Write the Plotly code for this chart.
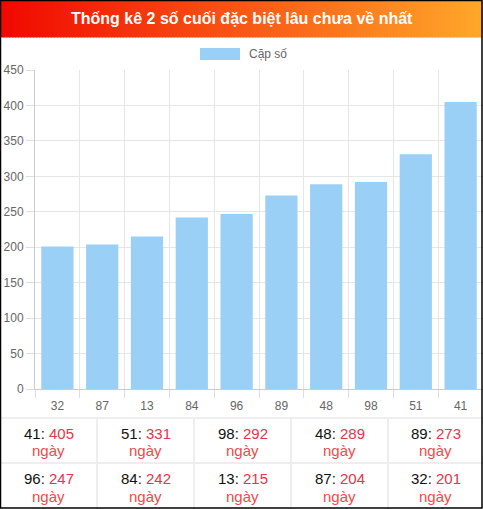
import plotly.graph_objects as go

# dữ liệu: cặp số và số ngày chưa về
categories = ['32', '87', '13', '84', '96', '89', '48', '98', '51', '41']
days = [201, 204, 215, 242, 247, 273, 289, 292, 331, 405]
y_ticks = [0, 50, 100, 150, 200, 250, 300, 350, 400, 450]

title_text = 'Thống kê 2 số cuối đặc biệt lâu chưa về nhất'
legend_text = 'Cặp số'
unit_text = 'ngày'

W, H = 483, 509
ML, MR, MT, MB = 35, 0, 70, 120
FONT = "Arial, 'Liberation Sans', sans-serif"
BAR_COLOR = '#9AD0F5'


def px(x):
    return (x - ML) / (W - ML - MR)


def py(y):
    return 1 - (y - MT) / (H - MT - MB)


fig = go.Figure()
fig.add_trace(go.Bar(x=categories, y=days, marker=dict(color=BAR_COLOR, line=dict(width=0)),
                     name=legend_text, showlegend=False, hoverinfo='skip'))

shapes = []
annotations = []

# header gradient (red -> orange)
c0, c1 = (240, 8, 0), (255, 167, 42)
n = 161
for i in range(n):
    t = i / (n - 1)
    col = tuple(round(a + (b - a) * t) for a, b in zip(c0, c1))
    x0 = W * i / n
    x1 = W * (i + 1) / n + 0.6
    shapes.append(dict(type='rect', xref='paper', yref='paper', x0=px(x0), x1=px(x1),
                       y0=py(37.5), y1=py(0), fillcolor='rgb(%d,%d,%d)' % col,
                       line=dict(width=0), layer='above'))
annotations.append(dict(text='<b>' + title_text + '</b>', x=px(W / 2), y=py(19),
                        xref='paper', yref='paper', showarrow=False, xanchor='center',
                        yanchor='middle', font=dict(size=16, color='white', family=FONT)))

# legend drawn by hand (wide swatch)
shapes.append(dict(type='rect', xref='paper', yref='paper', x0=px(200), x1=px(240),
                   y0=py(60), y1=py(48), fillcolor=BAR_COLOR, line=dict(width=0)))
annotations.append(dict(text=legend_text, x=px(247), y=py(54), xref='paper', yref='paper',
                        showarrow=False, xanchor='left', yanchor='middle',
                        font=dict(size=12, color='#666', family=FONT)))

# bảng xếp hạng bên dưới
ranked = sorted(zip(categories, days), key=lambda p: -p[1])
top, row_h = 418, 45
col_edges = [0, 97, 194, 291, 388, W]
for x in col_edges[1:-1]:
    shapes.append(dict(type='line', xref='paper', yref='paper', x0=px(x), x1=px(x),
                       y0=py(top), y1=py(H), line=dict(color='#eeeeee', width=2)))
for y in (top, top + row_h):
    shapes.append(dict(type='line', xref='paper', yref='paper', x0=px(0), x1=px(W),
                       y0=py(y), y1=py(y), line=dict(color='#eeeeee', width=2)))
for k, (cat, val) in enumerate(ranked):
    r, c = divmod(k, 5)
    cx = (col_edges[c] + col_edges[c + 1]) / 2
    ty = top + r * row_h
    annotations.append(dict(text='%s: <span style="color:#e8334a">%d</span>' % (cat, val),
                            x=px(cx), y=py(ty + 15), xref='paper', yref='paper',
                            showarrow=False, xanchor='center', yanchor='middle',
                            font=dict(size=15, color='#111', family=FONT)))
    annotations.append(dict(text=unit_text, x=px(cx), y=py(ty + 33), xref='paper',
                            yref='paper', showarrow=False, xanchor='center', yanchor='middle',
                            font=dict(size=15, color='#ef4a4a', family=FONT)))

# viền ngoài
shapes.append(dict(type='rect', xref='paper', yref='paper', x0=px(0.5), x1=px(W - 1),
                   y0=py(H - 1), y1=py(0.5), line=dict(color='black', width=1.5),
                   fillcolor='rgba(0,0,0,0)', layer='above'))

fig.update_layout(
    width=W, height=H,
    margin=dict(l=ML, r=MR, t=MT, b=MB, pad=0),
    paper_bgcolor='white', plot_bgcolor='white',
    bargap=0.28,
    font=dict(family=FONT, size=12, color='#666'),
    xaxis=dict(type='category', tickson='boundaries', ticks='outside', ticklen=8,
               tickcolor='#dddddd', showgrid=True, gridcolor='#e6e6e6',
               ticklabelstandoff=6,
               showline=True, linecolor='#cccccc', tickfont=dict(size=12, color='#666')),
    yaxis=dict(range=[0, 450], tickvals=y_ticks, ticks='outside', ticklen=8,
               tickcolor='#dddddd', showgrid=True, gridcolor='#e6e6e6', zeroline=False,
               showline=True, linecolor='#cccccc', tickfont=dict(size=12, color='#666')),
    shapes=shapes,
    annotations=annotations,
)

# bỏ lề mặc định của trang để hình khớp cửa sổ
fig.write_html('out.html', config={'displayModeBar': False},
               post_script="document.body.style.margin='0';")
